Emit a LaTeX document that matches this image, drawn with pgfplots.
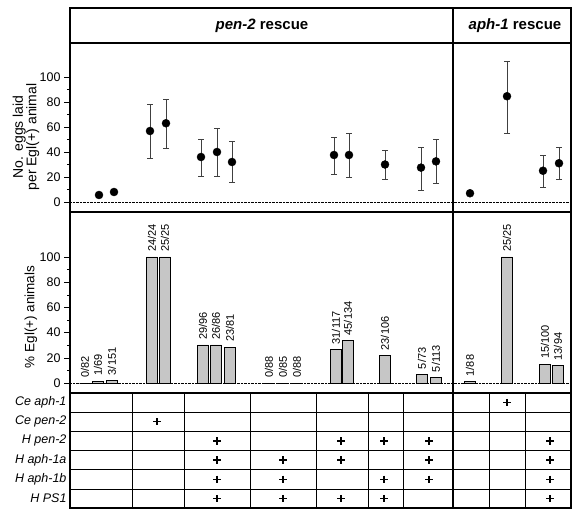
\documentclass[border=0pt]{standalone}
\usepackage{fontspec}
\setmainfont{Liberation Sans}
\usepackage{pgfplots}
\pgfplotsset{compat=1.18}
\begin{document}
\begin{tikzpicture}[x=1pt,y=1pt]
\useasboundingbox (0pt,0pt) rectangle (572pt,508pt);
\pgfplotsset{
  panel/.style={scale only axis, width=501pt, xmin=70, xmax=571, xtick=\empty,
    axis line style={line width=1.3pt}, ytick pos=left, tick align=outside,
    major tick length=6pt, minor tick length=3pt, minor y tick num=1,
    ytick={0,20,...,100}, tick style={black, thin},
    tick label style={font=\fontsize{12.5}{12.5}\selectfont},
    /pgf/number format/assume math mode=true, clip=false}
}
% top panel: eggs laid
\begin{axis}[panel, at={(70pt,296pt)}, anchor=south west, height=169pt, ymin=-8, ymax=127.2]
\addplot[densely dotted, thin, black] coordinates {(70,0) (571,0)};
\addplot[only marks, mark=*, mark size=4pt, black,
  error bars/.cd, y dir=both, y explicit,
  error bar style={thin, black!75},
  error mark options={rotate=90, mark size=3pt, black!75, thin}]
  coordinates {
  (99,5.6) += (0,0) -= (0,0)
  (114,8) += (0,2.4) -= (0,2)
  (150,56.8) += (0,21.6) -= (0,21.6)
  (166,63) += (0,19) -= (0,20)
  (201,36) += (0,14.4) -= (0,15)
  (217,40) += (0,19) -= (0,19)
  (232,32) += (0,17) -= (0,16)
  (334,37.6) += (0,14.4) -= (0,15.2)
  (349,37.6) += (0,17.4) -= (0,17.6)
  (385,30) += (0,11.6) -= (0,11.6)
  (421,27.5) += (0,16.5) -= (0,17.9)
  (436,32.5) += (0,18.1) -= (0,17.5)
  (470,7) += (0,0) -= (0,0)
  (507,84.6) += (0,28) -= (0,29.6)
  (543,25) += (0,12.6) -= (0,13)
  (559,31) += (0,13) -= (0,12.6)
  };
\end{axis}
% bottom panel: percent Egl(+)
\begin{axis}[panel, at={(70pt,115pt)}, anchor=south west, height=181pt, ymin=-7.9, ymax=135.7]
\addplot[densely dotted, thin, black] coordinates {(70,0) (571,0)};
\addplot[ybar, bar width=11, bar shift=0pt, draw=black, fill=gray!45, line width=0.8pt,
  nodes near coords, point meta=explicit symbolic,
  nodes near coords style={rotate=90, anchor=west, font=\fontsize{11}{11}\selectfont, inner xsep=5pt, inner ysep=0pt, black}]
  table[x=x, y=y, meta=l] {
x y l
85 0 0/82
98 1.45 1/69
112 2 3/151
152 100 24/24
165 100 25/25
203 30.2 29/96
216 30.2 26/86
230 28.4 23/81
269 0 0/88
283 0 0/85
297 0 0/88
336 26.5 31/117
348 33.6 45/134
385 21.7 23/106
422 6.8 5/73
436 4.4 5/113
470 1.1 1/88
507 100 25/25
545 15 15/100
558 13.8 13/94
};
\end{axis}
% table of constructs
\begin{axis}[scale only axis, width=501pt, height=115pt, at={(70pt,0pt)}, anchor=south west,
  xmin=70, xmax=571, ymin=0, ymax=6, axis line style={line width=1.3pt},
  xtick={132,184,250,316,368,403,489,525}, xticklabels={}, xmajorgrids,
  ytick={0.5,1.5,2.5,3.5,4.5,5.5},
  yticklabels={H PS1, H aph-1b, H aph-1a, H pen-2, Ce pen-2, Ce aph-1},
  minor ytick={1,2,3,4,5}, yminorgrids,
  major tick length=0pt, minor tick length=0pt,
  grid style={black, line width=0.6pt}, minor grid style={black, line width=0.6pt},
  yticklabel style={font=\fontsize{12.5}{12.5}\selectfont\itshape}, clip=false]
\addplot[only marks, mark=+, mark size=3.6pt, line width=1.4pt, black] coordinates {
  (507,5.5)
  (157,4.5)
  (217,3.5) (341,3.5) (384,3.5) (429,3.5) (550,3.5)
  (217,2.5) (283,2.5) (341,2.5) (429,2.5) (550,2.5)
  (217,1.5) (283,1.5) (384,1.5) (429,1.5) (550,1.5)
  (217,0.5) (283,0.5) (341,0.5) (384,0.5) (550,0.5)
};
\end{axis}
% header and dividers
\draw[line width=1.3pt] (70pt,465pt) rectangle (571pt,500pt);
\draw[line width=1.3pt] (453pt,0pt) -- (453pt,500pt);
\node[font=\fontsize{15}{15}\selectfont\bfseries] at (262pt,482pt) {\textit{pen-2} rescue};
\node[font=\fontsize{15}{15}\selectfont\bfseries] at (515pt,482pt) {\textit{aph-1} rescue};
\node[rotate=90, align=center, font=\fontsize{14}{13.5}\selectfont] at (26pt,371pt) {No. eggs laid\\per Egl(+) animal};
\node[rotate=90, font=\fontsize{13.5}{13.5}\selectfont] at (31pt,191pt) {\% Egl(+) animals};
\end{tikzpicture}
\end{document}
